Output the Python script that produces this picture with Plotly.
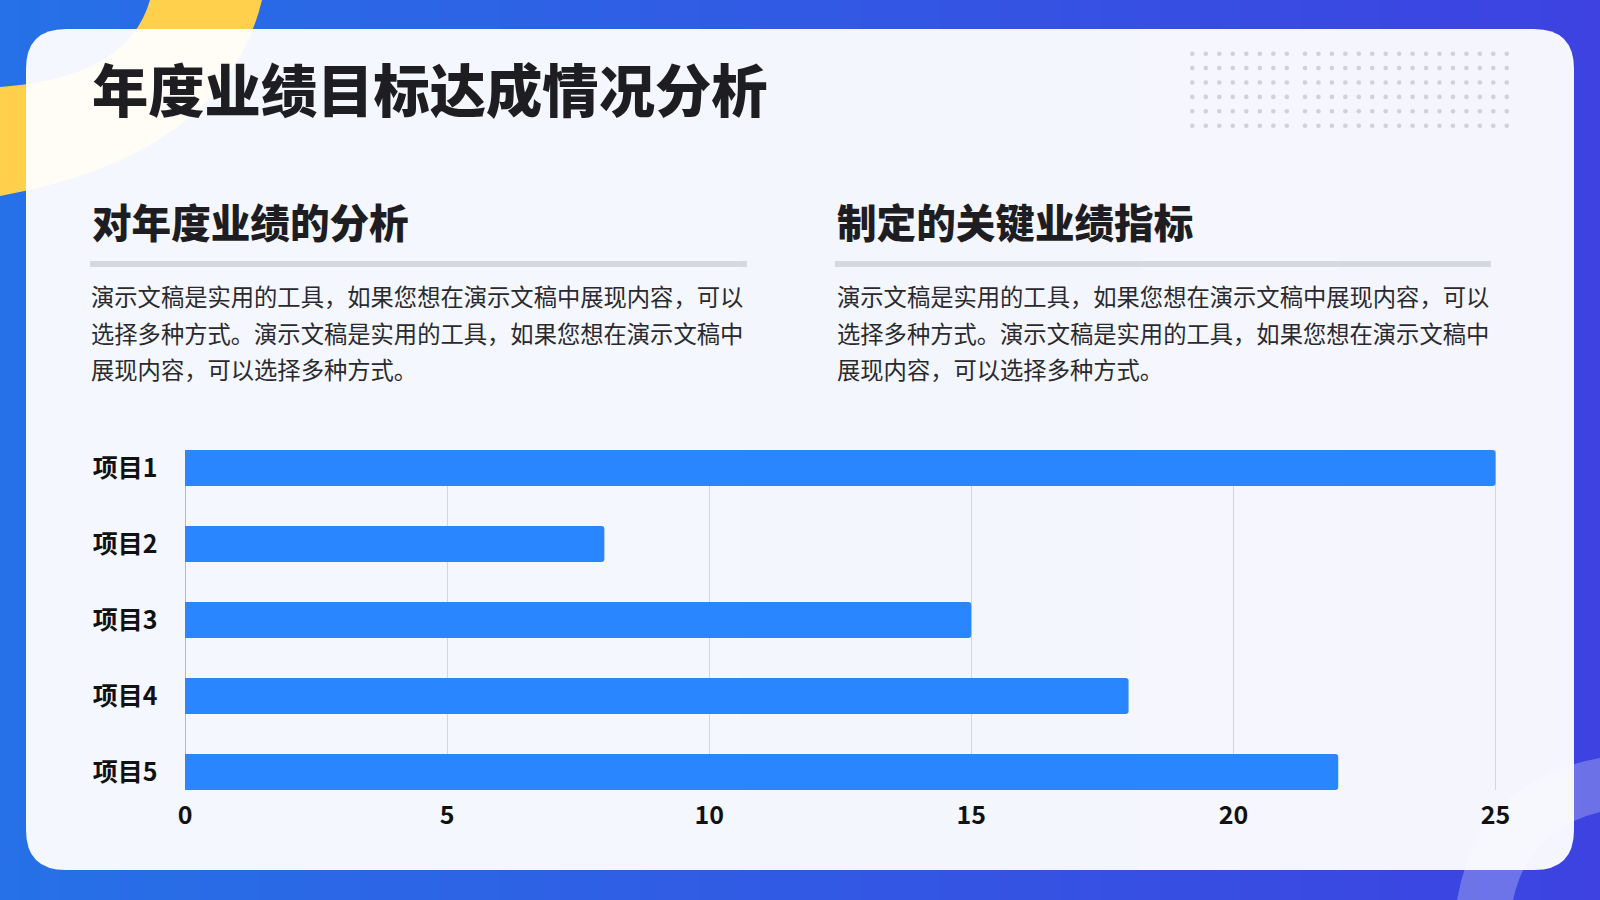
import plotly.graph_objects as go

# ---------------- data ----------------
categories = ["项目1", "项目2", "项目3", "项目4", "项目5"]
values = [25, 8, 15, 18, 22]
x_ticks = [0, 5, 10, 15, 20, 25]

title_text = "年度业绩目标达成情况分析"
left_heading = "对年度业绩的分析"
right_heading = "制定的关键业绩指标"
body_lines = [
    "演示文稿是实用的工具，如果您想在演示文稿中展现内容，可以",
    "选择多种方式。演示文稿是实用的工具，如果您想在演示文稿中",
    "展现内容，可以选择多种方式。",
]

W, H = 1600, 900
FONT = "Noto Sans CJK SC, Noto Sans, sans-serif"


def px(x):
    return x / W


def py(y):
    return 1 - y / H


def path(cmds):
    out = []
    for c in cmds:
        if isinstance(c, str):
            out.append(c)
        else:
            out.append(f"{px(c[0]):.5f},{py(c[1]):.5f}")
    return " ".join(out)


shapes = []

# background gradient (vertical stripes)
n = 80
c0 = (38, 113, 231)
c1 = (61, 66, 225)
for i in range(n):
    t = i / (n - 1)
    col = tuple(round(c0[k] + (c1[k] - c0[k]) * t) for k in range(3))
    shapes.append(dict(type="rect", xref="paper", yref="paper",
                       x0=i / n, x1=(i + 1) / n + 0.002, y0=0, y1=1,
                       fillcolor=f"rgb{col}", line_width=0, layer="below"))

# yellow band top-left
shapes.append(dict(type="path", xref="paper", yref="paper", layer="below",
                   path=path(["M", (150, 0), "L", (262, 0), "Q", (225, 155), (0, 196),
                              "L", (0, 87), "Q", (128, 78), (150, 0), "Z"]),
                   fillcolor="#ffd04b", line_width=0))

# light band bottom-right
shapes.append(dict(type="path", xref="paper", yref="paper", layer="below",
                   path=path(["M", (1457, 900), "Q", (1478, 780), (1600, 758),
                              "L", (1600, 812), "Q", (1528, 830), (1513, 900), "Z"]),
                   fillcolor="rgba(255,255,255,0.25)", line_width=0))

# card (rounded rectangle)
x0c, y0c, x1c, y1c, r = 26, 29, 1574, 870, 40
shapes.append(dict(type="path", xref="paper", yref="paper", layer="below",
                   path=path(["M", (x0c + r, y0c), "L", (x1c - r, y0c),
                              "Q", (x1c, y0c), (x1c, y0c + r),
                              "L", (x1c, y1c - r), "Q", (x1c, y1c), (x1c - r, y1c),
                              "L", (x0c + r, y1c), "Q", (x0c, y1c), (x0c, y1c - r),
                              "L", (x0c, y0c + r), "Q", (x0c, y0c), (x0c + r, y0c), "Z"]),
                   fillcolor="rgba(255,255,255,0.95)", line_width=0))

# dotted decoration
rows_y = [53.7 + 14.4 * k for k in range(6)]
cols_x = [1192.3 + 13.5 * i for i in range(8)] + [1305 + 13.45 * j for j in range(16)]
dr = 2.3
for yy in rows_y:
    for xx in cols_x:
        shapes.append(dict(type="circle", xref="paper", yref="paper", layer="below",
                           x0=px(xx - dr), x1=px(xx + dr), y0=py(yy + dr), y1=py(yy - dr),
                           fillcolor="#cfd2da", line_width=0))

# grey separators under headings
for xa, xb in [(90, 747), (835, 1491)]:
    shapes.append(dict(type="rect", xref="paper", yref="paper", layer="below",
                       x0=px(xa), x1=px(xb), y0=py(267), y1=py(261),
                       fillcolor="#d5d8e0", line_width=0))

annotations = []
annotations.append(dict(text=title_text, x=px(90), y=py(88), xref="paper", yref="paper",
                        xanchor="left", yanchor="middle", showarrow=False,
                        font=dict(family=FONT, size=56.3, color="#1e1e22", weight=900)))
for xh, txt in [(90, left_heading), (835, right_heading)]:
    annotations.append(dict(text=txt, x=px(xh), y=py(220), xref="paper", yref="paper",
                            xanchor="left", yanchor="middle", showarrow=False,
                            font=dict(family=FONT, size=39.6, color="#1e1e22", weight=900)))
for xb in [89, 835]:
    for k, line in enumerate(body_lines):
        annotations.append(dict(text=line, x=px(xb), y=py(296 + 36.5 * k), xref="paper", yref="paper",
                                xanchor="left", yanchor="middle", showarrow=False,
                                font=dict(family=FONT, size=23.3, color="#2a2a2e")))

fig = go.Figure()
fig.add_trace(go.Bar(
    x=values, y=categories, orientation="h",
    marker=dict(color="#2a86fe", line_width=0),
    hoverinfo="skip",
))

a = 0.03
fig.update_layout(
    width=W, height=H, autosize=False,
    margin=dict(l=0, r=0, t=0, b=0, pad=0, autoexpand=False),
    paper_bgcolor="#2f5ce4",
    plot_bgcolor="rgba(0,0,0,0)",
    showlegend=False,
    bargap=0.526,
    barcornerradius=3,
    shapes=shapes,
    annotations=annotations,
    xaxis=dict(
        domain=[183.43 / W, 1497.07 / W],
        range=[-a, 25 + a],
        tickvals=x_ticks,
        ticktext=[str(v) for v in x_ticks],
        showgrid=True, gridcolor="#d3d6dd", gridwidth=1,
        zeroline=True, zerolinecolor="#b8bbc2", zerolinewidth=1,
        showline=False, ticks="", automargin=False,
        ticklabelstandoff=8,
        tickfont=dict(family=FONT, size=25, color="#111111", weight="bold"),
    ),
    yaxis=dict(
        domain=[1 - 790 / H, 1 - 450 / H],
        type="category",
        range=[4.237, -0.237],
        showgrid=False, zeroline=False, showline=False, ticks="", automargin=False,
        ticklabelstandoff=25,
        tickfont=dict(family=FONT, size=25, color="#111111", weight="bold"),
    ),
)

fig.write_html("out.html", config={"displayModeBar": False, "responsive": False},
               post_script="document.body.style.margin='0';")
